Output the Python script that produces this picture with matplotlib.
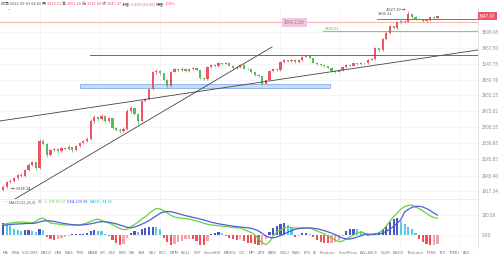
import matplotlib
matplotlib.use("Agg")
import matplotlib.pyplot as plt
import matplotlib.transforms as mtrans
from matplotlib.ticker import NullLocator
import numpy as np

plt.rcParams['font.family'] = ['Noto Sans CJK SC', 'DejaVu Sans']

# ---------------- data ----------------
opens = [1930,1950,1990,2000,2020,2050,2040,2090,2140,2160,
 2110,2360,2330,2230,2270,2280,2260,2290,2280,2300,
 2270,2310,2340,2360,2380,2560,2600,2580,2620,2560,
 2590,2490,2470,2460,2480,2670,2700,2640,2560,2780,
 2800,2920,3130,3150,3120,3040,2960,3140,3170,3160,
 3180,3150,3170,3190,3160,3060,3050,3200,3230,3210,
 3250,3240,3260,3220,3190,3200,3230,3180,3170,3130,
 3100,3080,2990,3040,3150,3170,3160,3270,3290,3280,
 3300,3270,3290,3340,3350,3320,3260,3240,3230,3210,
 3190,3150,3140,3160,3200,3230,3220,3250,3240,3260,
 3250,3300,3310,3460,3430,3600,3690,3790,3760,3850,
 3870,3860,3980,3930,3910,3900,3870,3880,3930,3920.51]
closes = [1950,1990,2000,2020,2050,2040,2090,2140,2160,2110,
 2360,2330,2230,2270,2280,2260,2290,2280,2300,2270,
 2310,2340,2360,2380,2560,2600,2580,2620,2560,2590,
 2490,2470,2460,2480,2670,2700,2640,2560,2780,2800,
 2920,3130,3150,3120,3040,2960,3140,3170,3160,3180,
 3150,3170,3190,3160,3060,3050,3200,3230,3210,3250,
 3240,3260,3220,3190,3200,3230,3180,3170,3130,3100,
 3080,2990,3040,3150,3170,3160,3270,3290,3280,3300,
 3270,3290,3340,3350,3320,3260,3240,3230,3210,3190,
 3150,3140,3160,3200,3230,3220,3250,3240,3260,3250,
 3300,3310,3460,3430,3600,3690,3790,3760,3850,3870,
 3860,3980,3930,3910,3900,3870,3880,3930,3920,3947.47]
highs = [1965,2000,2015,2035,2060,2065,2100,2150,2175,2165,
 2380,2375,2335,2285,2295,2290,2300,2300,2315,2305,
 2320,2350,2370,2400,2580,2625,2610,2640,2630,2600,
 2595,2500,2485,2495,2690,2720,2705,2650,2790,2820,
 2935,3145,3170,3160,3125,3045,3150,3185,3180,3195,
 3190,3180,3200,3200,3165,3075,3210,3245,3240,3265,
 3260,3275,3265,3225,3210,3240,3235,3190,3180,3140,
 3110,3090,3050,3160,3185,3180,3285,3305,3300,3315,
 3305,3300,3355,3370,3355,3325,3270,3250,3240,3220,
 3200,3160,3170,3210,3240,3240,3260,3255,3270,3265,
 3310,3325,3475,3470,3615,3710,3810,3800,3860,3885,
 3880,4027.29,3990,3945,3925,3910,3895,3940,3945,3951.00]
lows = [1918.34,1940,1980,1990,2010,2030,2030,2080,2130,2090,
 2100,2320,2210,2220,2260,2245,2250,2270,2270,2255,
 2260,2300,2330,2350,2370,2540,2560,2570,2550,2545,
 2480,2455,2440,2450,2470,2650,2630,2520,2550,2770,
 2790,2910,3110,3100,3030,2940,2950,3130,3140,3150,
 3140,3140,3160,3150,3050,3030,3040,3190,3200,3200,
 3225,3235,3210,3180,3180,3190,3170,3160,3120,3090,
 3070,2970,2980,3030,3140,3150,3150,3260,3270,3270,
 3260,3260,3280,3330,3310,3250,3230,3220,3200,3180,
 3140,3125,3130,3150,3190,3210,3210,3230,3230,3240,
 3240,3290,3300,3400,3420,3580,3670,3740,3750,3830,
 3840,3850,3910,3890,3880,3850,3860,3870,3905,3910.84]

dif = [52,57,60,62,64,65,64,62,60,68,80,85,72,60,57,55,52,50,50,50,
 50,50,55,60,68,75,80,72,66,60,52,42,33,27,28,42,52,65,80,92,
 108,122,133,130,122,110,98,90,86,84,82,80,75,70,65,58,54,50,48,46,
 44,42,40,38,36,35,28,20,12,0,-20,-38,-48,-35,-5,15,25,35,40,38,
 35,35,35,35,35,28,20,13,5,-5,-15,-25,-33,-30,-20,-10,0,10,15,10,
 3,0,3,12,25,45,70,92,110,130,142,148,150,140,132,120,108,96,88,84]
dea = [48,50,52,54,55,56,57,58,58,60,65,70,72,70,68,64,60,57,54,52,
 50,50,51,53,56,60,64,67,66,64,60,56,50,44,38,36,40,46,54,62,
 72,84,96,108,115,118,116,112,107,102,97,93,88,84,80,75,70,64,60,56,
 53,50,47,44,42,40,38,36,33,28,20,8,-5,-12,-14,-10,-3,5,14,22,
 28,32,34,35,35,34,31,27,22,16,9,2,-8,-15,-20,-20,-16,-10,-4,2,
 4,4,4,6,10,18,30,44,60,78,115,128,138,143,144,140,132,122,110,100]
hist = [60,55,45,30,25,20,25,25,20,15,30,25,-10,-20,-25,-22,-15,-8,-3,3,
 5,5,6,8,20,25,22,18,5,-5,-25,-40,-48,-45,-15,10,20,15,30,35,
 38,42,40,30,-15,-35,-48,-45,-35,-28,-20,-18,-20,-30,-48,-50,-30,5,12,15,
 10,-5,-15,-22,-25,-20,-30,-38,-42,-45,-50,-48,-20,15,35,45,55,60,52,40,
 -8,-5,10,12,5,-10,-25,-35,-38,-40,-38,-35,-25,-5,20,30,32,28,20,8,
 -3,3,8,15,30,45,65,80,85,70,55,40,30,10,-20,-35,-45,-50,-48,-45]

price_ticks = [3699.95, 3457.50, 3247.75, 3039.70, 2855.25, 2672.62,
               2500.35, 2336.85, 2185.85, 2043.40, 1917.34]
macd_ticks = [100.00, 0.00]
tab_labels = ["MA","EMA","VOLUME","MACD","DMI","BIAS","TRIX","BBAR","VR","OBV",
              "EMV","WR","SAR","KDJ","ROC","MTM","BOLL","PSY","StochRSI","MAVOL",
              "CCI","MFI","ATR","BBW","SKDJ","BIAS","EPS","AI","Position","FundFlow",
              "AVL/AVLS","LSUR","BASIS","TVolume","FTBS","TTS","TTMU","AVG"]

last_price = 3947.47
hline_gray_top = 3901.22
hline_pink = 3848.22
hline_green = 3709.63
hline_gray_mid = 3365.0
band_blue = (2934.0, 2982.0)
trend_long = ((-0.82, 2562.0), (130.1, 3435.0))
trend_steep = ((3.29, 1856.0), (73.7, 3478.0))

# ---------------- layout ----------------
W, H = 498, 257
fig = plt.figure(figsize=(W / 100, H / 100), dpi=100)
fig.patch.set_facecolor('white')

def rect(x0, y0, x1, y1):
    return [x0 / W, 1 - y1 / H, (x1 - x0) / W, (y1 - y0) / H]

ax = fig.add_axes(rect(0, 8, 478, 199))
axm = fig.add_axes(rect(0, 199, 478, 248), sharex=ax)

RED = '#ef5466'
GREEN = '#5cb85c'
N = len(closes)
x = np.arange(N)
o = np.array(opens); c = np.array(closes)
hi = np.array(highs); lo = np.array(lows)
up = c >= o
cols = np.where(up, RED, GREEN)

ax.vlines(x, lo, hi, colors=cols, lw=0.5, zorder=3)
body_lo = np.minimum(o, c)
body_h = np.maximum(np.abs(c - o), 3)
ax.bar(x, body_h, bottom=body_lo, width=0.6, color=cols, lw=0, zorder=4)

ax.set_yscale('log')
ax.set_ylim(1856, 4085)
ax.set_xlim(-0.82, 130.1)
ax.yaxis.tick_right()
ax.set_yticks(price_ticks)
ax.set_yticklabels([f"{v:.2f}" for v in price_ticks])
ax.yaxis.set_minor_locator(NullLocator())
ax.tick_params(axis='y', length=0, labelsize=3.4, labelcolor='#8a8a8a', pad=2.5)
vgrid = [10.1, 26.6, 43.0, 59.5, 75.9, 92.3, 108.8, 125.2]
ax.set_xticks(vgrid)
ax.tick_params(axis='x', length=0, labelbottom=False)
ax.grid(True, color='#f1f1f1', lw=0.5, zorder=0)
for s in ['top', 'left', 'bottom']:
    ax.spines[s].set_visible(False)
ax.spines['right'].set_color('#dcdcdc'); ax.spines['right'].set_linewidth(0.5)

blend = mtrans.blended_transform_factory(ax.transAxes, ax.transData)

# drawings
ax.plot(*zip(*trend_long), color='#444444', lw=0.6, zorder=5)
ax.plot(*zip(*trend_steep), color='#444444', lw=0.6, zorder=5)
ax.plot([23.8, 130.1], [hline_gray_mid] * 2, color='#555555', lw=0.6, zorder=5)
ax.fill_between([21.1, 89.6], band_blue[0], band_blue[1], color='#c9dbf5',
                edgecolor='#86aee6', lw=0.6, zorder=2)
ax.plot([102.5, 130.1], [hline_gray_top] * 2, color='#666666', lw=0.6, zorder=5)
ax.plot([-0.82, 130.1], [hline_pink] * 2, color='#f6b9ab', lw=0.8, zorder=2)
ax.plot([87.7, 130.1], [hline_green] * 2, color='#8fd14f', lw=0.8, zorder=2)

ax.text(77.0, hline_pink, "3848.2238", fontsize=3.1, color='#c06a95', va='center', ha='left',
        bbox=dict(boxstyle='square,pad=0.45', fc='#ecc8dc', ec='none'), zorder=6)
ax.text(88.3, 3745, f"{hline_green:.2f}", fontsize=2.9, color='#6aaa3a', va='center', ha='left', zorder=6)
ax.text(102.6, 3980, f"{hline_gray_top:.2f}", fontsize=2.9, color='#444444', va='center', ha='left', zorder=6)
ax.text(110.3, 4050, f"{max(highs):.2f} \u2192", fontsize=2.9, color='#444444', va='center', ha='right', zorder=6)
ax.text(2.2, min(lows) + 12, f"\u2190 {min(lows):.2f}", fontsize=2.9, color='#444444', va='center', ha='left', zorder=6)

ax.text(1.002, last_price, f"{last_price:.2f}", transform=blend, fontsize=3.3, color='white',
        va='center', ha='left', bbox=dict(boxstyle='square,pad=0.3', fc='#ef5466', ec='none'),
        clip_on=False, zorder=7)

# ---------------- MACD ----------------
hv = np.array(hist)
prev = np.concatenate([[hv[0]], hv[:-1]])
hcols = []
for v, p in zip(hv, prev):
    if v >= 0:
        hcols.append('#4a55c8' if v >= p else '#5cc8e4')
    else:
        hcols.append('#ef4f5a' if v <= p else '#f5a3a8')
axm.bar(x, hv, width=0.6, color=hcols, lw=0, zorder=3)
axm.plot(x, dif, color='#6fcf3a', lw=0.9, zorder=4)
axm.plot(x, dea, color='#4d5fd6', lw=0.9, zorder=4)
axm.set_ylim(-65, 180)
axm.yaxis.tick_right()
axm.set_yticks(macd_ticks)
axm.set_yticklabels([f"{v:.2f}" for v in macd_ticks])
axm.tick_params(axis='y', length=0, labelsize=3.4, labelcolor='#8a8a8a', pad=2.5)
axm.tick_params(axis='x', length=0, labelbottom=False)
axm.set_xticks(vgrid)
axm.grid(True, color='#f1f1f1', lw=0.5, zorder=0)
for s in ['left', 'bottom']:
    axm.spines[s].set_visible(False)
axm.spines['top'].set_color('#e4e4e4'); axm.spines['top'].set_linewidth(0.5)
axm.spines['right'].set_color('#dcdcdc'); axm.spines['right'].set_linewidth(0.5)

# ---------------- texts ----------------
fig.canvas.draw()
renderer = fig.canvas.get_renderer()

def seq_text(x0, y, pieces, size):
    xx = x0
    for s, col in pieces:
        t = fig.text(xx / W, 1 - y / H, s, color=col, fontsize=size, va='center', ha='left')
        bb = t.get_window_extent(renderer=renderer)
        xx += bb.width
    return xx

DK = '#555555'
seq_text(1, 4, [("时间:2021-09-03 04:00 ", DK), ("开:", DK), ("3920.51 ", RED),
                ("高:", DK), ("3951.00 ", RED), ("低:", DK), ("3910.84 ", RED),
                ("收:", DK), ("3947.47 ", RED), ("涨幅:", DK), ("0.40%(16.60) ", RED),
                ("振幅:", DK), ("1.58%", RED)], 2.8)
fig.text(6 / W, 1 - 9.5 / H, "\u2304", fontsize=3, color='#888888', va='center', ha='left')

seq_text(5, 202, [("\u2014 ", '#777777'), ("MACD(12,26,9)  ", '#555555'), ("\u24d8  \u00d7  ", '#999999'),
                  ("DIF:83.67  ", '#6fcf3a'), ("DEA:100.98  ", '#4d5fd6'), ("MACD:-34.61", '#2bb3c0')], 2.8)

# bottom indicator tabs, spread over the strip
tab_size = 2.9
widths = []
for lab in tab_labels:
    t = fig.text(0, 0, lab, fontsize=tab_size)
    widths.append(t.get_window_extent(renderer=renderer).width)
    t.remove()
x_start, x_end = 3.0, 470.0
gap = (x_end - x_start - sum(widths)) / (len(tab_labels) - 1)
xx = x_start
for lab, wd in zip(tab_labels, widths):
    fig.text(xx / W, 1 - 253 / H, lab, fontsize=tab_size, color='#777777', va='center', ha='left')
    xx += wd + gap

fig.savefig('out.png', dpi=100, facecolor='white')
